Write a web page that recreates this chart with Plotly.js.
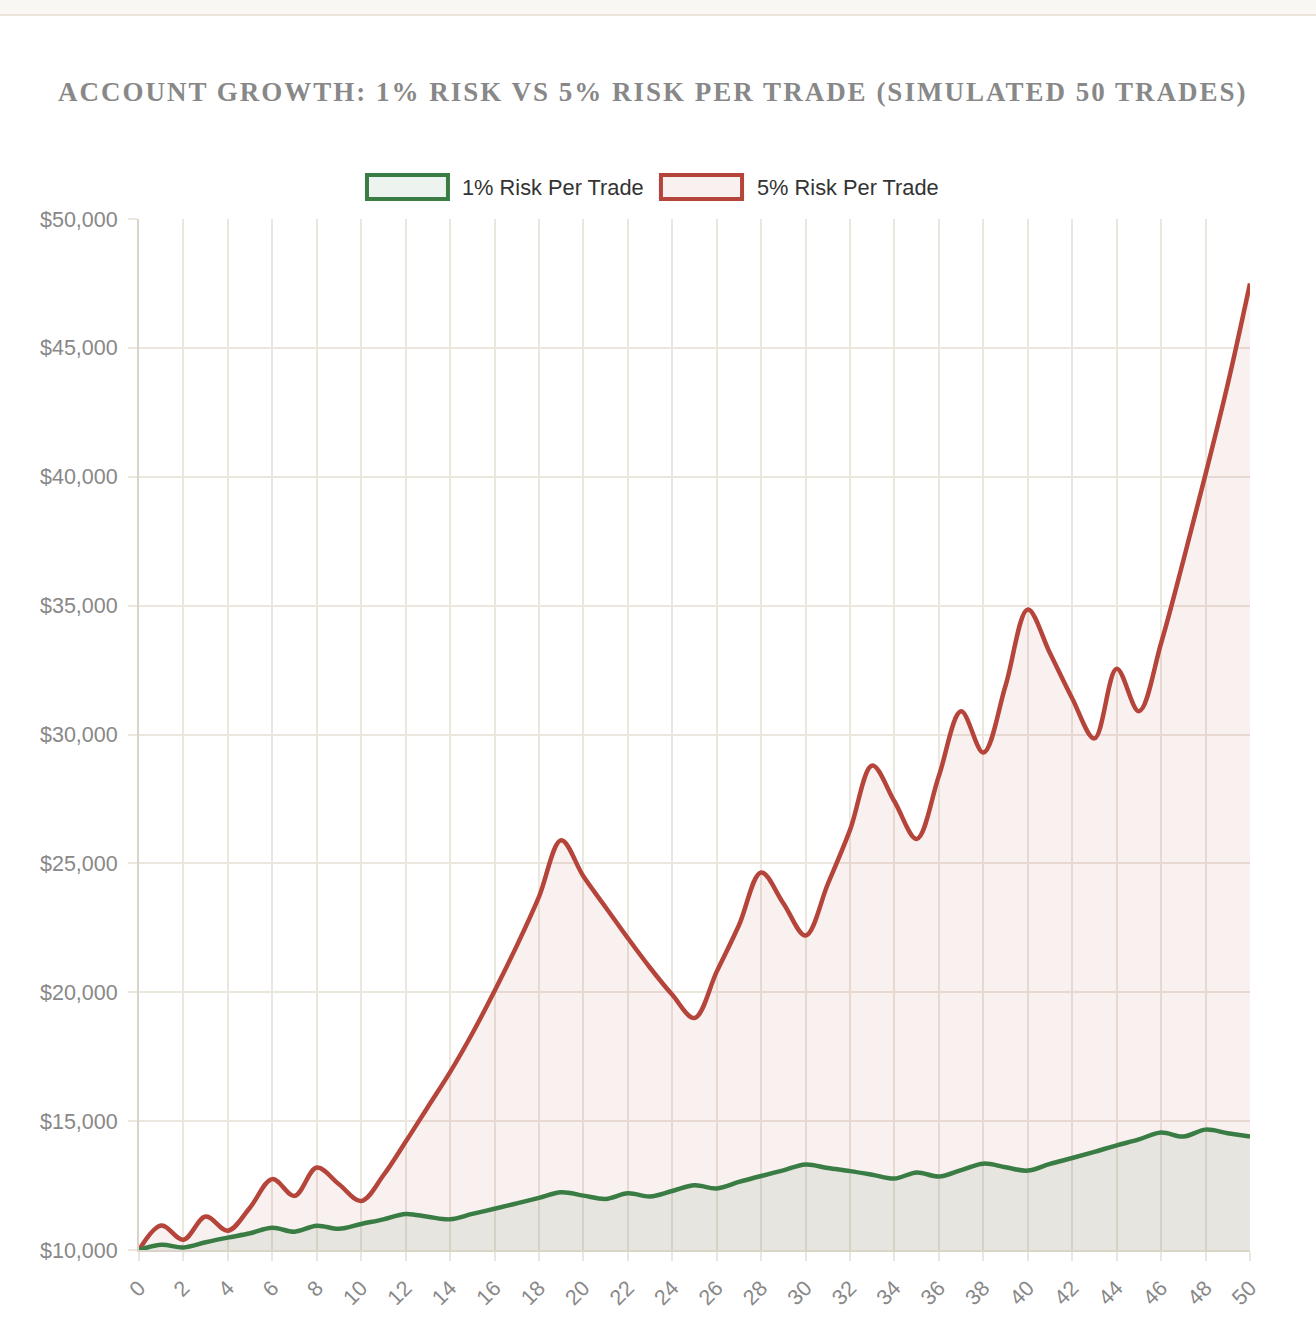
<!DOCTYPE html>
<html>
<head>
<meta charset="utf-8">
<script src="https://cdn.plot.ly/plotly-3.0.1.min.js"></script>
<style>
  html, body { margin: 0; padding: 0; background: #ffffff; }
  #topbar { position: absolute; left: 0; top: 0; width: 1316px; height: 14px;
            background: #f8f7f3; border-bottom: 2px solid #ebe4d9; z-index: 2; }
  #chart { width: 1316px; height: 1338px; }
  #chart .gtitle { letter-spacing: 2px; }
</style>
</head>
<body>
<div id="topbar"></div>
<div id="chart"></div>
<script>
(function () {
  'use strict';

  // trade number 0..50
  var trades = [];
  for (var t = 0; t <= 50; t++) trades.push(t);

  // account balance, per trade
  var risk1 = [
    10000, 10200, 10100, 10300, 10480, 10650, 10860, 10710, 10940, 10820,
    11010, 11190, 11400, 11290, 11190, 11400, 11600, 11810, 12020, 12240,
    12110, 11980, 12200, 12080, 12290, 12510, 12390, 12640, 12870, 13090,
    13320, 13180, 13060, 12920, 12770, 13010, 12850, 13100, 13350, 13210,
    13080, 13340, 13570, 13810, 14060, 14290, 14560, 14400, 14670, 14530,
    14400
  ];
  var risk5 = [
    10000, 10950, 10400, 11300, 10750, 11650, 12750, 12100, 13200, 12550,
    11900, 12900, 14200, 15550, 16900, 18400, 20050, 21800, 23700, 25900,
    24500, 23300, 22100, 20950, 19900, 19000, 20800, 22600, 24650, 23450,
    22200, 24200, 26300, 28800, 27400, 25950, 28400, 30900, 29300, 31900,
    34850, 33150, 31400, 29850, 32550, 30900, 33550, 36750, 40100, 43600,
    47500
  ];

  var seriesNames = ['1% Risk Per Trade', '5% Risk Per Trade'];
  var yTicks = [10000, 15000, 20000, 25000, 30000, 35000, 40000, 45000, 50000];
  var yTickText = yTicks.map(function (v) {
    return '$' + v.toString().replace(/\B(?=(\d{3})+(?!\d))/g, ',');
  });

  var green = '#3a7d44';
  var red = '#b5443a';
  var greenFill = 'rgba(58, 125, 68, 0.09)';
  var redFill = 'rgba(183, 68, 58, 0.08)';
  var gridColor = '#ece7de';
  var axisColor = '#d9d3c8';
  var tickText = '#888888';
  var sans = '"Liberation Sans", Arial, sans-serif';

  var axisCommon = {
    showgrid: true,
    gridcolor: gridColor,
    gridwidth: 2,
    zeroline: false,
    showline: true,
    linecolor: axisColor,
    linewidth: 2,
    ticks: 'outside',
    ticklen: 9,
    tickwidth: 2,
    tickcolor: gridColor,
    tickfont: { family: sans, size: 21.5, color: tickText },
    ticklabelstandoff: 6,
    fixedrange: true
  };

  // red first so the green area sits on top of it
  var traces = [
    {
      x: trades, y: risk5, name: seriesNames[1], type: 'scatter', mode: 'lines',
      line: { color: red, width: 4.5, shape: 'spline', smoothing: 1 },
      fill: 'tozeroy', fillcolor: redFill, showlegend: false,
      hovertemplate: 'Trade %{x}<br>$%{y:,.0f}<extra></extra>'
    },
    {
      x: trades, y: risk1, name: seriesNames[0], type: 'scatter', mode: 'lines',
      line: { color: green, width: 4.5, shape: 'spline', smoothing: 1 },
      fill: 'tozeroy', fillcolor: greenFill, showlegend: false,
      hovertemplate: 'Trade %{x}<br>$%{y:,.0f}<extra></extra>'
    }
  ];

  // Chart.js style legend: outlined boxes above the plot
  var legendBoxes = [
    { x0: 0.2052, x1: 0.2781, line: green, fill: greenFill, text: seriesNames[0], tx: 0.2889 },
    { x0: 0.4698, x1: 0.5428, line: red, fill: redFill, text: seriesNames[1], tx: 0.5545 }
  ];
  var shapes = legendBoxes.map(function (b) {
    return {
      type: 'rect', xref: 'paper', yref: 'paper',
      x0: b.x0, x1: b.x1, y0: 1.0194, y1: 1.0427,
      line: { color: b.line, width: 4 }, fillcolor: b.fill
    };
  });
  var annotations = legendBoxes.map(function (b) {
    return {
      xref: 'paper', yref: 'paper', x: b.tx, y: 1.031,
      xanchor: 'left', yanchor: 'middle', showarrow: false,
      text: b.text, font: { family: sans, size: 21.8, color: '#333333' }
    };
  });

  var layout = {
    width: 1316,
    height: 1338,
    margin: { t: 219, r: 66, b: 88, l: 139 },
    paper_bgcolor: '#ffffff',
    plot_bgcolor: '#ffffff',
    showlegend: false,
    title: {
      text: '<b>ACCOUNT GROWTH: 1% RISK VS 5% RISK PER TRADE (SIMULATED 50 TRADES)</b>',
      font: { family: '"Liberation Serif", "DejaVu Serif", serif', size: 27, color: '#888888' },
      xref: 'container', x: 0.496, xanchor: 'center',
      yref: 'container', y: 1 - 92 / 1338, yanchor: 'middle'
    },
    xaxis: Object.assign({}, axisCommon, {
      range: [0, 50],
      tickmode: 'linear', tick0: 0, dtick: 2,
      tickangle: -45,
      tickfont: { family: sans, size: 21.5, color: tickText }
    }),
    yaxis: Object.assign({}, axisCommon, {
      range: [10000, 50000],
      tickmode: 'array', tickvals: yTicks, ticktext: yTickText
    }),
    shapes: shapes,
    annotations: annotations
  };

  Plotly.newPlot('chart', traces, layout, { displayModeBar: false, responsive: false });
})();
</script>
</body>
</html>
